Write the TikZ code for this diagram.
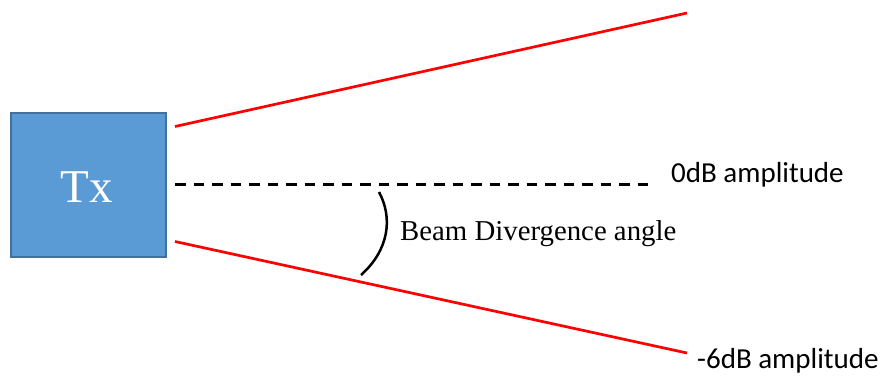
\documentclass[tikz,border=0pt]{standalone}
\usepackage{fontspec}
\setmainfont{Liberation Serif}
\newfontfamily\labelfont{Carlito}
\definecolor{txfill}{HTML}{5B9BD5}
\definecolor{txdraw}{HTML}{41719C}
\begin{document}
\begin{tikzpicture}[x=1pt,y=-1pt,
  beam/.style={draw=red,line width=2.7pt},
  axisline/.style={draw=black,line width=3pt,dash pattern=on 10.5pt off 8pt},
  anglearc/.style={draw=black,line width=2.5pt},
  amp/.style={font=\labelfont\fontsize{29}{34}\selectfont,inner sep=0pt,anchor=base west},
  serifl/.style={font=\fontsize{28.8}{34}\selectfont,inner sep=0pt,anchor=base west}]
\useasboundingbox (0,0) rectangle (880,375);
\node[draw=txdraw,fill=txfill,line width=2pt,minimum width=155pt,minimum height=144pt,inner sep=0pt,anchor=north west] (tx) at (9.5,112) {};
\node[text=white,font=\fontsize{47}{52}\selectfont,inner sep=0pt,anchor=base] (txl) at (87,202) {Tx};
\coordinate (ts) at (175,126.5);
\coordinate (te) at (687,13);
\coordinate (bs) at (175,241.5);
\coordinate (be) at (687,353);
\coordinate (ds) at (175,184);
\coordinate (de) at (650,184);
\coordinate (as) at (379,192);
\coordinate (ae) at (361,275);
\draw[beam] (ts) -- (te);
\draw[beam] (bs) -- (be);
\draw[axisline] (ds) -- (de);
\draw[anglearc] (as) .. controls (393,218) and (389,250) .. (ae);
\node[serifl] (bda) at (400,240) {Beam Divergence angle};
\node[amp] (a0) at (671,182) {0dB amplitude};
\node[amp] (a6) at (697,368.5) {-6dB amplitude};
\end{tikzpicture}
\end{document}
